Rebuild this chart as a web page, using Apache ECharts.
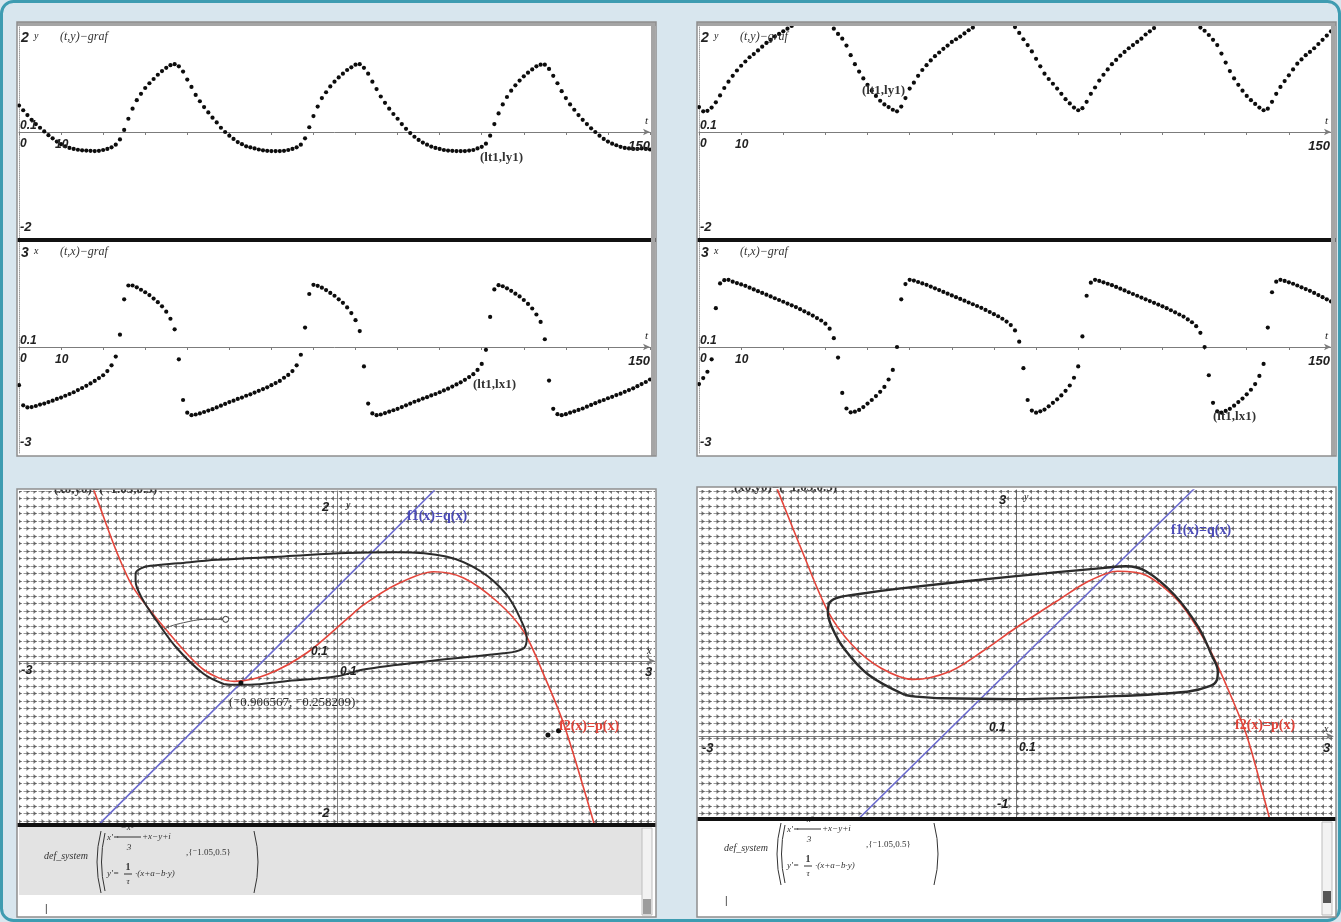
<!DOCTYPE html>
<html>
<head>
<meta charset="utf-8">
<title>FitzHugh-Nagumo</title>
<script src="https://cdn.jsdelivr.net/npm/echarts@6.0.0/dist/echarts.min.js"></script>
<style>
  html, body { margin: 0; padding: 0; background: #d8e6ee; }
  #main { width: 1341px; height: 922px; }
</style>
</head>
<body>
<div id="main"></div>
<script>
const tlY = [0.50, 0.41, 0.32, 0.23, 0.15, 0.08, 0.01, -0.06, -0.12, -0.18,
  -0.23, -0.27, -0.30, -0.32, -0.335, -0.345, -0.35, -0.355, -0.36, -0.355,
  -0.34, -0.32, -0.29, -0.24, -0.14, 0.04, 0.25, 0.44, 0.60, 0.72,
  0.83, 0.92, 1.00, 1.08, 1.15, 1.21, 1.26, 1.28, 1.24, 1.14,
  0.99, 0.85, 0.70, 0.58, 0.47, 0.37, 0.27, 0.18, 0.08, 0.00,
  -0.07, -0.13, -0.19, -0.23, -0.27, -0.29, -0.31, -0.33, -0.345, -0.355,
  -0.36, -0.36, -0.36, -0.355, -0.34, -0.32, -0.29, -0.24, -0.12, 0.09,
  0.30, 0.48, 0.64, 0.75, 0.86, 0.95, 1.03, 1.10, 1.17, 1.22,
  1.27, 1.28, 1.21, 1.10, 0.95, 0.81, 0.67, 0.55, 0.44, 0.34,
  0.25, 0.15, 0.06, -0.02, -0.09, -0.15, -0.20, -0.24, -0.275, -0.30,
  -0.32, -0.34, -0.35, -0.355, -0.36, -0.36, -0.36, -0.35, -0.34, -0.31,
  -0.28, -0.22, -0.07, 0.15, 0.35, 0.52, 0.66, 0.78, 0.88, 0.97,
  1.05, 1.12, 1.18, 1.24, 1.27, 1.27, 1.19, 1.06, 0.92, 0.77,
  0.64, 0.52, 0.42, 0.32, 0.23, 0.15, 0.07, 0.00, -0.07, -0.13,
  -0.18, -0.22, -0.25, -0.28, -0.30, -0.31, -0.32, -0.32, -0.31, -0.32,
  -0.33]
const tlX = [-1.08, -1.65, -1.71, -1.70, -1.67, -1.63, -1.60, -1.56, -1.52, -1.47,
  -1.43, -1.38, -1.33, -1.28, -1.22, -1.16, -1.10, -1.03, -0.96, -0.88,
  -0.80, -0.68, -0.52, -0.27, 0.35, 1.35, 1.74, 1.74, 1.69, 1.62,
  1.55, 1.47, 1.37, 1.27, 1.15, 1.00, 0.80, 0.50, -0.35, -1.50,
  -1.86, -1.93, -1.91, -1.88, -1.84, -1.80, -1.76, -1.71, -1.66, -1.61,
  -1.56, -1.52, -1.47, -1.43, -1.38, -1.34, -1.29, -1.24, -1.19, -1.14,
  -1.08, -1.02, -0.96, -0.87, -0.79, -0.68, -0.52, -0.22, 0.55, 1.50,
  1.76, 1.73, 1.68, 1.61, 1.53, 1.45, 1.35, 1.25, 1.12, 0.96,
  0.76, 0.45, -0.55, -1.60, -1.88, -1.93, -1.91, -1.87, -1.83, -1.79,
  -1.75, -1.70, -1.65, -1.60, -1.55, -1.51, -1.46, -1.42, -1.37, -1.33,
  -1.28, -1.23, -1.18, -1.12, -1.06, -1.00, -0.93, -0.85, -0.77, -0.65,
  -0.48, -0.08, 0.85, 1.63, 1.75, 1.72, 1.66, 1.59, 1.51, 1.43,
  1.33, 1.22, 1.09, 0.92, 0.71, 0.22, -0.95, -1.75, -1.90, -1.93,
  -1.90, -1.86, -1.82, -1.78, -1.74, -1.69, -1.64, -1.59, -1.54, -1.50,
  -1.45, -1.41, -1.36, -1.32, -1.27, -1.22, -1.17, -1.11, -1.05, -0.99,
  -0.92]
const trY = [0.47, 0.39, 0.40, 0.46, 0.56, 0.69, 0.83, 0.95, 1.06, 1.16,
  1.25, 1.33, 1.41, 1.47, 1.54, 1.61, 1.68, 1.74, 1.80, 1.85,
  1.90, 1.95, 2.00, 2.03, 2.05, 2.07, 2.08, 2.09, 2.09, 2.08,
  2.05, 2.01, 1.95, 1.85, 1.76, 1.63, 1.45, 1.28, 1.14, 1.01,
  0.89, 0.78, 0.68, 0.59, 0.52, 0.47, 0.42, 0.39, 0.48, 0.64,
  0.82, 0.93, 1.06, 1.17, 1.26, 1.35, 1.43, 1.50, 1.57, 1.63,
  1.70, 1.75, 1.80, 1.86, 1.92, 1.97, 2.01, 2.04, 2.06, 2.08,
  2.09, 2.09, 2.08, 2.06, 2.03, 1.98, 1.87, 1.75, 1.64, 1.52,
  1.38, 1.24, 1.10, 1.00, 0.91, 0.82, 0.72, 0.62, 0.54, 0.46,
  0.41, 0.45, 0.57, 0.72, 0.84, 0.97, 1.08, 1.18, 1.28, 1.36,
  1.44, 1.51, 1.58, 1.64, 1.70, 1.76, 1.84, 1.90, 1.96, 2.01,
  2.04, 2.06, 2.08, 2.09, 2.09, 2.08, 2.06, 2.04, 2.01, 1.97,
  1.91, 1.83, 1.74, 1.64, 1.48, 1.31, 1.15, 1.01, 0.89, 0.78,
  0.68, 0.60, 0.53, 0.46, 0.41, 0.44, 0.57, 0.72, 0.85, 0.96,
  1.07, 1.18, 1.29, 1.37, 1.45, 1.51, 1.58, 1.66, 1.74, 1.82,
  1.90]
const trX = [-1.05, -0.88, -0.70, -0.35, 1.10, 1.80, 1.89, 1.90, 1.85, 1.81,
  1.77, 1.73, 1.68, 1.63, 1.58, 1.53, 1.48, 1.43, 1.38, 1.33,
  1.28, 1.23, 1.18, 1.13, 1.07, 1.01, 0.95, 0.89, 0.82, 0.75,
  0.66, 0.52, 0.25, -0.30, -1.30, -1.74, -1.85, -1.83, -1.78, -1.70,
  -1.60, -1.50, -1.39, -1.27, -1.13, -0.92, -0.65, 0.00, 1.35, 1.78,
  1.90, 1.88, 1.84, 1.80, 1.76, 1.71, 1.66, 1.61, 1.56, 1.51,
  1.46, 1.41, 1.36, 1.31, 1.26, 1.21, 1.16, 1.11, 1.05, 0.99,
  0.93, 0.87, 0.80, 0.72, 0.62, 0.47, 0.15, -0.60, -1.50, -1.80,
  -1.86, -1.82, -1.77, -1.68, -1.58, -1.48, -1.37, -1.24, -1.09, -0.87,
  -0.55, 0.30, 1.45, 1.82, 1.90, 1.87, 1.83, 1.79, 1.75, 1.70,
  1.65, 1.60, 1.55, 1.50, 1.45, 1.40, 1.35, 1.30, 1.25, 1.20,
  1.15, 1.10, 1.04, 0.98, 0.92, 0.86, 0.78, 0.70, 0.59, 0.40,
  0.00, -0.80, -1.58, -1.82, -1.86, -1.81, -1.75, -1.66, -1.56, -1.46,
  -1.34, -1.21, -1.05, -0.82, -0.48, 0.55, 1.55, 1.85, 1.90, 1.87,
  1.83, 1.79, 1.74, 1.69, 1.64, 1.59, 1.53, 1.47, 1.41, 1.35,
  1.29]

// phase planes, [x, y]
const blRed = [[-2.32, 2.10], [-2.25, 1.86], [-2.08, 1.29], [-1.92, 0.86], [-1.60, 0.35], [-1.26, -0.10],
  [-0.97, -0.24], [-0.66, -0.16], [-0.28, 0.10], [0.09, 0.49], [0.25, 0.66], [0.56, 0.90], [0.91, 1.05],
  [1.19, 0.98], [1.51, 0.70], [1.76, 0.35], [1.95, -0.16], [2.13, -0.71], [2.28, -1.30], [2.42, -1.89], [2.46, -2.05]]
const blBlue = [[-2.30, -1.99], [0.92, 2.01]]
const blCycle = [[-1.07, -0.27], [-1.26, -0.15], [-1.51, 0.15], [-1.70, 0.47], [-1.84, 0.74], [-1.90, 0.94],
  [-1.90, 1.03], [-1.85, 1.09], [-1.76, 1.12], [-1.50, 1.15], [-1.13, 1.19], [-0.50, 1.23], [0.09, 1.27],
  [0.56, 1.28], [1.03, 1.23], [1.35, 1.06], [1.60, 0.78], [1.74, 0.47], [1.79, 0.27], [1.77, 0.16],
  [1.68, 0.11], [1.57, 0.09], [0.88, 0.00], [0.25, -0.10], [0.00, -0.18], [-0.50, -0.24], [-0.82, -0.28],
  [-1.00, -0.28], [-1.07, -0.27]]
const blPath = [[-1.05, 0.49], [-1.26, 0.49], [-1.45, 0.45], [-1.57, 0.41], [-1.64, 0.37]]
const blEq = [[-0.906567, -0.258209]]
const blDots = [[1.99, -0.87], [2.09, -0.82]]

const brRed = [[-2.27, 3.05], [-2.25, 2.98], [-2.01, 2.21], [-1.78, 1.52], [-1.55, 1.11], [-1.28, 0.83],
  [-0.97, 0.69], [-0.62, 0.79], [-0.32, 1.03], [0.00, 1.32], [0.38, 1.64], [0.69, 1.89], [0.96, 2.01],
  [1.23, 1.96], [1.54, 1.64], [1.81, 1.11], [2.00, 0.59], [2.19, -0.02], [2.39, -0.96], [2.41, -1.05]]
const brBlue = [[-1.49, -1.01], [1.69, 3.02]]
const brCycle = [[-1.05, 0.50], [-1.40, 0.75], [-1.63, 1.07], [-1.74, 1.32], [-1.78, 1.50], [-1.77, 1.61],
  [-1.70, 1.68], [-1.55, 1.72], [-1.09, 1.80], [0.00, 1.95], [0.84, 2.05], [1.04, 2.07], [1.23, 2.01],
  [1.50, 1.72], [1.73, 1.32], [1.85, 0.99], [1.91, 0.79], [1.90, 0.68], [1.84, 0.61], [1.62, 0.54],
  [0.84, 0.48], [0.00, 0.45], [-0.70, 0.46], [-0.95, 0.48], [-1.05, 0.50]]

const ts = arr => arr.map((v, i) => [i, v])

// slope-field texture: small arrows pointing right / left
function arrowTile (dir) {
  const c = document.createElement('canvas')
  c.width = 15
  c.height = 15
  const g = c.getContext('2d')
  g.strokeStyle = 'rgba(85,85,85,0.6)'
  g.fillStyle = 'rgba(85,85,85,0.8)'
  g.lineWidth = 1;
  [[0, 0], [8, 0], [0, 8], [8, 8]].forEach(([ox, oy]) => {
    const cy = oy + 3.5
    g.beginPath(); g.moveTo(ox + 0.5, cy); g.lineTo(ox + 7, cy); g.stroke()
    g.beginPath()
    if (dir > 0) { g.moveTo(ox + 6.5, cy); g.lineTo(ox + 3.5, cy - 2.5); g.lineTo(ox + 3.5, cy + 2.5) }
    else { g.moveTo(ox + 1, cy); g.lineTo(ox + 4, cy - 2.5); g.lineTo(ox + 4, cy + 2.5) }
    g.closePath(); g.fill()
  })
  return c
}
const rightPat = { image: arrowTile(1), repeat: 'repeat' }
const leftPat = { image: arrowTile(-1), repeat: 'repeat' }

const SANS = '"Liberation Sans", "DejaVu Sans", sans-serif'
const SERIF = '"Liberation Serif", "DejaVu Serif", serif'

function txt (x, y, s, font, color, align, z) {
  return {
    type: 'text', x, y, z: z || 60, silent: true,
    style: { text: s, font, fill: color || '#222', textAlign: align || 'left', align: align || 'left', textVerticalAlign: 'middle', verticalAlign: 'middle' }
  }
}
function rect (x, y, w, h, fill, z, stroke, lw, r) {
  return { type: 'rect', z, silent: true, shape: { x, y, width: w, height: h, r: r || 0 }, style: { fill: fill || 'none', stroke: stroke || 'none', lineWidth: lw || 0 } }
}
function seg (x1, y1, x2, y2, color, w, z) {
  return { type: 'line', z: z || 62, silent: true, shape: { x1, y1, x2, y2 }, style: { stroke: color, lineWidth: w || 1 } }
}
function curve (x1, y1, cx, cy, x2, y2, z) {
  return { type: 'bezierCurve', z: z || 62, silent: true, shape: { x1, y1, x2, y2, cpx1: cx, cpy1: cy }, style: { stroke: '#333', lineWidth: 1, fill: 'none' } }
}

const BI = s => `italic bold ${s}px ${SANS}`
const gfx = []
gfx.push(rect(1.5, 1.5, 1338, 919, '#d8e6ee', 0, '#3e9cb1', 3, 12))

// time-plot panels
;[0, 680].forEach(dx => {
  gfx.push(rect(17 + dx, 22, 639, 434, '#fff', 0))
  gfx.push(rect(17 + dx, 22, 639, 4, '#a5a5a5', 70))
  gfx.push(rect(17 + dx, 238, 639, 4, '#111', 70))
  gfx.push(rect(17 + dx, 22, 639, 434, 'none', 71, '#8e8e8e', 1.5))
  gfx.push(rect(651 + dx, 22, 4, 434, '#a5a5a5', 70))
  ;[0, 215].forEach((dy, k) => {
    gfx.push(txt(21 + dx, 38 + dy, k ? '3' : '2', BI(14)))
    gfx.push(txt(34 + dx, 36 + dy, k ? 'x' : 'y', `italic 10px ${SERIF}`))
    gfx.push(txt(60 + dx, 37 + dy, k ? '(t,x)\u2212graf' : '(t,y)\u2212graf', `italic 12px ${SERIF}`, '#333'))
    gfx.push(txt(20 + dx, 126 + dy, '0.1', BI(12)))
    gfx.push(txt(20 + dx, 144 + dy, '0', BI(12)))
    gfx.push(txt(55 + dx, 145 + dy, '10', BI(12)))
    gfx.push(txt(20 + dx, 227 + dy, k ? '-3' : '-2', BI(13)))
    gfx.push(txt(645 + dx, 121 + dy, 't', `italic 11px ${SERIF}`))
    gfx.push(txt(650 + dx, 146 + dy, '150', BI(13), '#222', 'right'))
  })
})
const LBL = `bold 13px ${SERIF}`
gfx.push(txt(480, 158, '(lt1,ly1)', LBL, '#333'))
gfx.push(txt(473, 385, '(lt1,lx1)', LBL, '#333'))
gfx.push(txt(862, 91, '(lt1,ly1)', LBL, '#333'))
gfx.push(txt(1213, 417, '(lt1,lx1)', LBL, '#333'))

// phase-plane panels
function defBlock (dx, dy, gray) {
  const f = `italic 9px ${SERIF}`
  const T = (x, y, s, font, align) => gfx.push(txt(x + dx, y + dy, s, font || f, '#333', align || 'left', 62))
  gfx.push(rect(19 + dx, 827 + dy, 623, 68, gray ? '#e3e3e3' : '#fff', 51))
  T(44, 856, 'def_system', `italic 10px ${SERIF}`)
  gfx.push(curve(101 + dx, 831 + dy, 93 + dx, 862 + dy, 101 + dx, 893 + dy))
  gfx.push(curve(105 + dx, 833 + dy, 98 + dx, 862 + dy, 105 + dx, 891 + dy))
  gfx.push(curve(254 + dx, 831 + dy, 262 + dx, 862 + dy, 254 + dx, 893 + dy))
  T(107, 838, "x'=")
  T(127, 828, '\u2212x\u00b3', f, 'center')
  gfx.push(seg(117 + dx, 837 + dy, 141 + dx, 837 + dy, '#333', 1))
  T(129, 848, '3', f, 'center')
  T(142, 837, '+x\u2212y+i')
  T(107, 874, "y'=")
  T(128, 867, '1', `bold 10px ${SERIF}`, 'center')
  gfx.push(seg(124 + dx, 874 + dy, 132 + dx, 874 + dy, '#333', 1))
  T(128, 882, '\u03c4', f, 'center')
  T(135, 874, '\u00b7(x+a\u2212b\u00b7y)')
  T(186, 853, ',{\u207b1.05,0.5}', `9px ${SERIF}`)
  T(45, 909, '|', `10px ${SANS}`)
}
;[[0, 489, 428, 823, 0], [680, 487, 430, 817, -8]].forEach(([dx, top, h, sep, dy], k) => {
  gfx.push(rect(17 + dx, top, 639, h, '#fff', 0))
  gfx.push(rect(17 + dx, sep + 3, 639, 917 - sep - 3, '#fff', 50))
  gfx.push(rect(17 + dx, sep, 639, 4, '#111', 70))
  gfx.push(rect(17 + dx, top - 22, 639, 22, '#d8e6ee', 66))
  gfx.push(rect(17 + dx, top, 639, h, 'none', 71, '#8e8e8e', 1.5))
  // scrollbar
  gfx.push(rect(642 + dx, sep + 5, 10, 916 - sep - 6, '#f2f2f2', 60, '#bdbdbd', 1))
  gfx.push(rect(643 + dx, k ? 891 : 899, 8, k ? 12 : 15, k ? '#555' : '#9c9c9c', 61))
  defBlock(dx, dy, k === 0)
})
gfx.push(txt(54, 490, '(x0,y0)=(\u207b1.05,0.5)', `bold 13px ${SERIF}`, '#333', 'left', 65))
gfx.push(txt(734, 488, '(x0,y0)=(\u207b1.05,0.5)', `bold 13px ${SERIF}`, '#333', 'left', 65))
// BL axis texts
gfx.push(txt(322, 507, '2', BI(13)))
gfx.push(txt(346, 505, 'y', `italic 10px ${SERIF}`))
gfx.push(txt(311, 652, '0.1', BI(12)))
gfx.push(txt(340, 672, '0.1', BI(12)))
gfx.push(txt(21, 670, '-3', BI(13)))
gfx.push(txt(647, 651, 'x', `italic 10px ${SERIF}`))
gfx.push(txt(645, 672, '3', BI(13)))
gfx.push(txt(318, 813, '-2', BI(13)))
gfx.push(txt(229, 703, '(\u207b0.906567, \u207b0.258209)', `13px ${SERIF}`, '#333'))
gfx.push(txt(407, 516, 'f1(x)=q(x)', `bold 14px ${SERIF}`, '#4b4bb8'))
gfx.push(txt(559, 726, 'f2(x)=p(x)', `bold 14px ${SERIF}`, '#e0443a'))
// BR axis texts
gfx.push(txt(999, 500, '3', BI(13)))
gfx.push(txt(1024, 497, 'y', `italic 10px ${SERIF}`))
gfx.push(txt(989, 728, '0.1', BI(12)))
gfx.push(txt(1019, 748, '0.1', BI(12)))
gfx.push(txt(702, 748, '-3', BI(13)))
gfx.push(txt(1324, 729, 'x', `italic 10px ${SERIF}`))
gfx.push(txt(1323, 748, '3', BI(13)))
gfx.push(txt(997, 804, '-1', BI(13)))
gfx.push(txt(1171, 530, 'f1(x)=q(x)', `bold 14px ${SERIF}`, '#4b4bb8'))
gfx.push(txt(1235, 725, 'f2(x)=p(x)', `bold 14px ${SERIF}`, '#e0443a'))

const grids = [
  { left: 19, top: 26, width: 631, height: 212 },
  { left: 19, top: 241, width: 631, height: 212 },
  { left: 699, top: 26, width: 632, height: 212 },
  { left: 699, top: 241, width: 632, height: 212 },
  { left: 19, top: 491, width: 636, height: 340 },
  { left: 699, top: 490, width: 634, height: 328 }
].map(g => Object.assign(g, { containLabel: false, outerBoundsMode: 'none', show: false }))

const tAxis = i => ({
  gridIndex: i, type: 'value', min: 0, max: 150, interval: 10,
  axisLine: { show: true, onZero: true, symbol: ['none', 'arrow'], symbolSize: [5, 7], lineStyle: { color: '#7c7c7c', width: 1 } },
  axisTick: { show: true, length: 3, lineStyle: { color: '#7c7c7c' } },
  axisLabel: { show: false }, splitLine: { show: false }
})
const vAxis = (i, min, max, dotted) => ({
  gridIndex: i, type: 'value', min, max,
  axisLine: { show: true, onZero: true, lineStyle: { color: dotted ? '#a0a0a0' : '#7c7c7c', width: 1, type: dotted ? 'dotted' : 'solid' } },
  axisTick: { show: false }, axisLabel: { show: false }, splitLine: { show: false }
})
const xAxes = [tAxis(0), tAxis(1), tAxis(2), tAxis(3),
  Object.assign(vAxis(4, -3, 3), { axisLine: { show: true, onZero: true, symbol: ['none', 'arrow'], symbolSize: [5, 7], lineStyle: { color: '#7c7c7c' } } }),
  Object.assign(vAxis(5, -3, 3), { axisLine: { show: true, onZero: true, symbol: ['none', 'arrow'], symbolSize: [5, 7], lineStyle: { color: '#7c7c7c' } } })]
const yAxes = [vAxis(0, -2, 2, true), vAxis(1, -3, 3, true), vAxis(2, -2, 2, true), vAxis(3, -3, 3, true),
  vAxis(4, -2, 2), vAxis(5, -1, 3)]

const dots = (i, arr) => ({
  type: 'scatter', xAxisIndex: i, yAxisIndex: i, data: ts(arr), symbolSize: 4.2,
  itemStyle: { color: '#0c0c0c', opacity: 1 }, silent: true, clip: true, z: 5
})
function field (i, red, yMin, yMax, xIn, xOut) {
  const base = { type: 'line', xAxisIndex: i, yAxisIndex: i, data: red, smooth: 0.3, symbol: 'none', silent: true, clip: true, z: 1, lineStyle: { width: 0, opacity: 0 } }
  return [
    Object.assign({}, base, {
      areaStyle: { origin: 'start', color: rightPat, opacity: 1 },
      markArea: { silent: true, label: { show: false }, itemStyle: { color: rightPat, opacity: 1, borderWidth: 0 }, data: [[{ xAxis: -3, yAxis: yMin }, { xAxis: xIn, yAxis: yMax }]] }
    }),
    Object.assign({}, base, {
      areaStyle: { origin: 'end', color: leftPat, opacity: 1 },
      markArea: { silent: true, label: { show: false }, itemStyle: { color: leftPat, opacity: 1, borderWidth: 0 }, data: [[{ xAxis: xOut, yAxis: yMin }, { xAxis: 3, yAxis: yMax }]] }
    })
  ]
}
const line = (i, data, color, width, smooth, z) => ({
  type: 'line', xAxisIndex: i, yAxisIndex: i, data, smooth, symbol: 'none', silent: true, clip: true, z,
  lineStyle: { color, width }
})

const series = [
  dots(0, tlY), dots(1, tlX), dots(2, trY), dots(3, trX),
  ...field(4, blRed, -2, 2, -2.30, 2.44),
  ...field(5, brRed, -1, 3, -2.27, 2.40),
  line(4, blBlue, '#6a6acf', 1.5, false, 3),
  line(4, blRed, '#e4463c', 1.6, 0.3, 4),
  line(4, blCycle, '#2c2c2c', 2, 0.35, 5),
  line(4, blPath, '#555', 1, 0.3, 5),
  { type: 'scatter', xAxisIndex: 4, yAxisIndex: 4, data: [blPath[0]], symbol: 'circle', symbolSize: 6, itemStyle: { color: '#fff', borderColor: '#333', borderWidth: 1, opacity: 1 }, silent: true, z: 6 },
  { type: 'scatter', xAxisIndex: 4, yAxisIndex: 4, data: blEq.concat(blDots), symbolSize: 5, itemStyle: { color: '#111', opacity: 1 }, silent: true, z: 6 },
  line(5, brBlue, '#6a6acf', 1.5, false, 3),
  line(5, brRed, '#e4463c', 1.6, 0.3, 4),
  line(5, brCycle, '#2c2c2c', 2.4, 0.35, 5)
]

const chart = echarts.init(document.getElementById('main'), null, { renderer: 'canvas', width: 1341, height: 922 })
chart.setOption({
  animation: false,
  backgroundColor: '#d8e6ee',
  grid: grids,
  xAxis: xAxes,
  yAxis: yAxes,
  graphic: { elements: gfx },
  series
})
</script>
</body>
</html>
